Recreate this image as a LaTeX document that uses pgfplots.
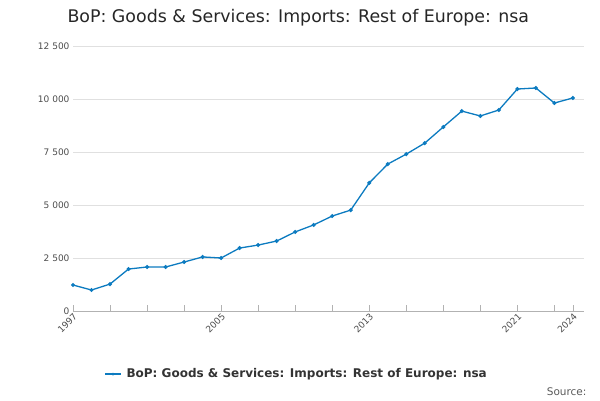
\documentclass[border=0pt]{standalone}
\usepackage{pgfplots}
\pgfplotsset{compat=1.18}
\usepackage{fontspec}
\setmainfont{DejaVu Sans}
\definecolor{ln}{HTML}{0C7BC0}
\begin{document}
\begin{tikzpicture}
\path (0pt,0pt) rectangle (600pt,400pt);
\node[anchor=west,font=\fontsize{17.4}{19}\selectfont,text=black!85] at (64pt,382pt) {BoP: Goods \& Services: Imports: Rest of Europe: nsa};
\begin{axis}[at={(73pt,89pt)},anchor=south west,scale only axis,width=511pt,height=265pt,
 xmin=1997,xmax=2024.6,ymin=0,ymax=12500,
 scaled y ticks=false,
 axis x line*=bottom, axis y line*=left,
 y axis line style={draw=none},
 ytick={0,2500,5000,7500,10000,12500},
 yticklabels={0,2 500,5 000,7 500,10 000,12 500},
 ymajorgrids, grid style={black!12},
 xtick={1997,2005,2013,2021,2024},
 xticklabels={1997,2005,2013,2021,2024},
 minor xtick={1999,2001,2003,2007,2009,2011,2015,2017,2019,2023},
 x tick label style={rotate=45,anchor=north east,font=\fontsize{9}{10}\selectfont,text=black!70,inner sep=1pt},
 y tick label style={font=\fontsize{9}{10}\selectfont,text=black!70},
 xtick style={black!30}, major tick length=6pt, minor tick length=6pt,
 ytick style={draw=none},
 x axis line style={black!30},
 clip=false]
\addplot[ln,line width=1.3pt,mark=*,mark size=1.3pt] coordinates {
(1997,1226)(1998,990)(1999,1270)(2000,1980)(2001,2075)(2002,2075)(2003,2310)(2004,2550)(2005,2500)(2006,2970)(2007,3110)(2008,3300)(2009,3730)(2010,4060)(2011,4480)(2012,4760)(2013,6040)(2014,6930)(2015,7400)(2016,7920)(2017,8680)(2018,9430)(2019,9200)(2020,9480)(2021,10470)(2022,10520)(2023,9810)(2024,10050)};
\end{axis}
\draw[ln,line width=1.3pt] (105pt,26pt) -- (121pt,26pt); \fill[ln] (113pt,26pt) circle (1.5pt);
\node[anchor=west,font=\bfseries\fontsize{12}{14}\selectfont,text=black!80] at (123pt,26pt) {BoP: Goods \& Services: Imports: Rest of Europe: nsa};
\node[anchor=east,font=\fontsize{10.5}{12}\selectfont,text=black!65] at (590pt,8pt) {Source:};
\end{tikzpicture}
\end{document}
